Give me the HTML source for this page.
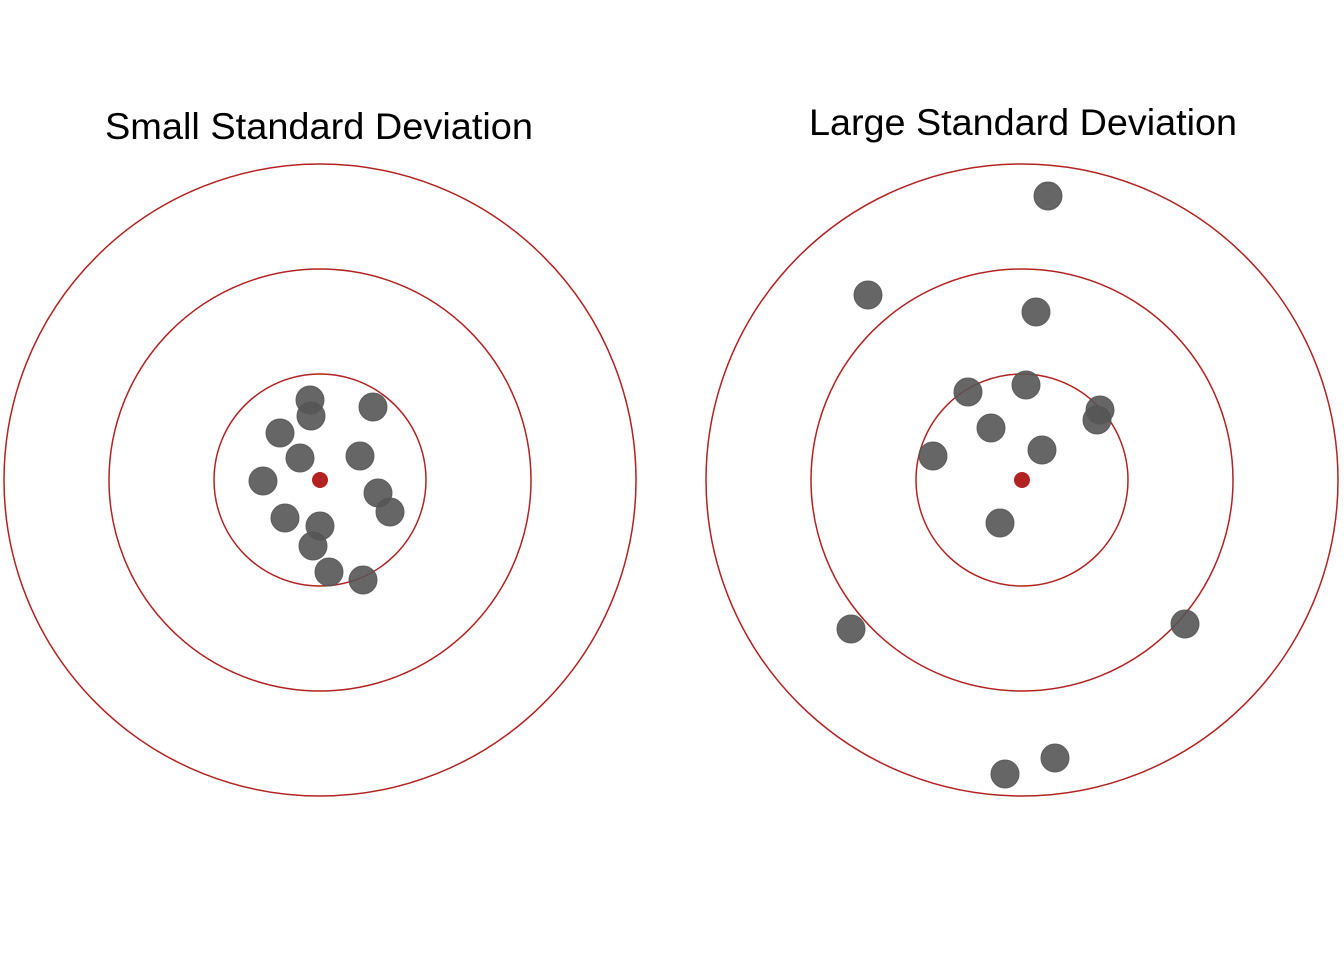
<!DOCTYPE html>
<html><head><meta charset="utf-8"><style>
html,body{margin:0;padding:0;background:#fff;}
svg{display:block;}
</style></head><body>
<svg width="1344" height="960" viewBox="0 0 1344 960" xmlns="http://www.w3.org/2000/svg">
<rect width="1344" height="960" fill="#fff"/>
<g font-family="Liberation Sans, sans-serif" font-size="37" text-anchor="middle" fill="#000">
<text x="319" y="139" textLength="428" lengthAdjust="spacingAndGlyphs">Small Standard Deviation</text>
<text x="1023" y="135" textLength="428" lengthAdjust="spacingAndGlyphs">Large Standard Deviation</text>
</g>
<g fill="none" stroke="#B22222" stroke-width="1.5">
<circle cx="320" cy="480" r="316"/><circle cx="320" cy="480" r="211"/><circle cx="320" cy="480" r="106"/>
<circle cx="1022" cy="480" r="316"/><circle cx="1022" cy="480" r="211"/><circle cx="1022" cy="480" r="106"/>
</g>
<g fill="#555" fill-opacity="0.9" stroke="#555" stroke-opacity="0.9">
<circle cx="310" cy="400" r="14"/><circle cx="311" cy="416" r="14"/><circle cx="373" cy="407" r="14"/>
<circle cx="280" cy="433" r="14"/><circle cx="300" cy="458" r="14"/><circle cx="360" cy="456" r="14"/>
<circle cx="263" cy="481" r="14"/><circle cx="378" cy="493" r="14"/><circle cx="390" cy="512" r="14"/>
<circle cx="285" cy="518" r="14"/><circle cx="320" cy="526" r="14"/><circle cx="313" cy="546" r="14"/>
<circle cx="329" cy="572" r="14"/><circle cx="363" cy="580" r="14"/>
<circle cx="1048" cy="196" r="14"/><circle cx="868" cy="295" r="14"/><circle cx="1036" cy="312" r="14"/>
<circle cx="968" cy="392" r="14"/><circle cx="1026" cy="385" r="14"/><circle cx="1100" cy="410" r="14"/>
<circle cx="1097" cy="420" r="14"/><circle cx="991" cy="428" r="14"/><circle cx="933" cy="456" r="14"/>
<circle cx="1042" cy="450" r="14"/><circle cx="1000" cy="523" r="14"/><circle cx="851" cy="629" r="14"/>
<circle cx="1185" cy="624" r="14"/><circle cx="1055" cy="758" r="14"/><circle cx="1005" cy="774" r="14"/>
</g>
<circle cx="320" cy="480" r="8" fill="#B22222"/>
<circle cx="1022" cy="480" r="8" fill="#B22222"/>
</svg>
</body></html>
